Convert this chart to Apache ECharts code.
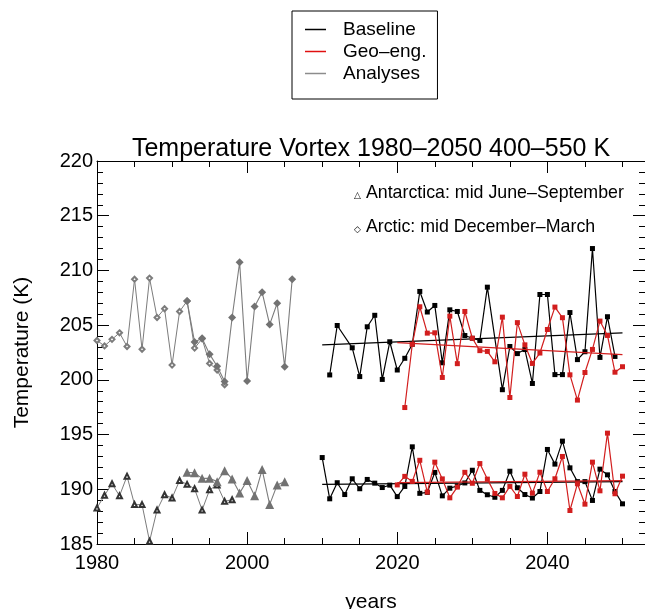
<!DOCTYPE html>
<html><head><meta charset="utf-8">
<script src="https://cdn.jsdelivr.net/npm/echarts@6/dist/echarts.min.js"></script>
<style>html,body{margin:0;padding:0;background:#fff}#c{width:645px;height:609px}</style>
</head><body><div id="c"></div>
<script>
// ---- data ----
const arcticOpenYears = [1980,1981,1982,1983,1984,1985,1986,1987,1988,1989,1990,1991,1992,1993,1994,1995,1996,1997];
const arcticOpenVals  = [203.6,203.1,203.7,204.3,203.05,209.2,202.8,209.3,205.7,206.5,201.35,206.25,207.2,202.9,203.75,201.5,200.9,199.55];
const arcticFillYears = [1992,1993,1994,1995,1996,1997,1998,1999,2000,2001,2002,2003,2004,2005,2006];
const arcticFillVals  = [207.2,203.45,203.8,202.35,201.25,199.85,205.7,210.75,199.9,206.7,208.0,205.05,207.0,201.2,209.2];
const antOpenYears = [1980,1981,1982,1983,1984,1985,1986,1987,1988,1989,1990,1991,1992,1993,1994,1995,1996,1997,1998];
const antOpenVals  = [188.3,189.45,190.5,189.4,191.2,188.6,188.6,185.25,188.1,189.5,189.2,190.8,190.45,190.05,188.1,189.95,190.4,188.9,189.05];
const antFillYears = [1992,1993,1994,1995,1996,1997,1998,1999,2000,2001,2002,2003,2004,2005];
const antFillVals  = [191.55,191.5,191.0,191.0,190.7,191.7,190.95,189.65,190.8,189.4,191.8,188.6,190.4,190.7];

const baseArcticYears = [2011,2012,2014,2015,2016,2017,2018,2019,2020,2021,2022,2023,2024,2025,2026,2027,2028,2029,2030,2031,2032,2034,2035,2036,2037,2038,2039,2040,2041,2042,2043,2044,2045,2046,2047,2048,2049];
const baseArcticVals  = [200.45,204.97,202.93,200.3,204.85,205.9,200.04,203.48,200.9,201.97,203.25,208.08,206.2,206.8,201.56,206.4,206.25,204.05,203.8,203.6,208.47,199.1,203.05,202.4,202.77,199.67,207.8,207.8,200.48,200.48,206.15,201.85,202.57,212.0,202.05,205.77,202.14];
const geoArcticYears = [2021,2022,2023,2024,2025,2026,2027,2028,2029,2030,2031,2032,2033,2034,2035,2036,2037,2038,2039,2040,2041,2042,2043,2044,2045,2046,2047,2048,2049,2050];
const geoArcticVals  = [197.47,203.25,206.68,204.27,204.3,200.22,205.82,201.48,206.25,203.8,202.67,202.6,201.65,205.73,198.39,205.23,203.2,201.5,202.45,204.6,206.65,205.68,200.46,198.15,200.67,202.78,205.37,204.06,200.7,201.2];

const baseAntYears = [2010,2011,2012,2013,2014,2015,2016,2017,2018,2019,2020,2021,2022,2023,2024,2025,2026,2027,2028,2029,2030,2031,2032,2033,2034,2035,2036,2037,2038,2039,2040,2041,2042,2043,2044,2045,2046,2047,2048,2049,2050];
const baseAntVals  = [192.9,189.13,190.6,189.52,190.96,190.05,190.9,190.56,190.16,190.38,189.33,190.26,193.88,189.63,189.72,191.54,189.4,190.1,190.3,190.58,191.74,189.9,189.5,189.27,189.9,191.65,190.14,189.52,189.2,189.8,193.64,192.3,194.4,191.96,190.7,190.7,188.98,191.84,191.32,189.8,188.67];
const geoAntYears = [2020,2021,2022,2023,2024,2025,2026,2027,2028,2029,2030,2031,2032,2033,2034,2035,2036,2037,2038,2039,2040,2041,2042,2043,2044,2045,2046,2047,2048,2049,2050];
const geoAntVals  = [190.4,191.18,190.72,192.65,189.74,192.48,190.95,189.22,190.2,191.55,190.55,192.35,190.93,189.62,189.22,190.26,189.34,191.38,189.65,191.56,189.8,190.96,193.0,188.06,190.5,188.64,192.48,189.86,195.13,189.59,191.2];

// trend line end points
const trendBaseArcticYears = [2010,2050], trendBaseArcticVals = [203.2,204.3];
const trendGeoArcticYears  = [2020,2050], trendGeoArcticVals  = [203.4,202.3];
const trendBaseAntYears    = [2010,2050], trendBaseAntVals    = [190.45,190.7];
const trendGeoAntYears     = [2020,2050], trendGeoAntVals     = [190.6,190.8];

const xLabelTicks = [1980,2000,2020,2040];
const yTicks = [185,190,195,200,205,210,215,220];

// ---- styling ----
const FONT = 'Liberation Sans, Arial, Helvetica, sans-serif';
const BLACK = '#000000', RED = '#d21e1e', GREY = '#7c7c7c', GREYM = '#727272';
const pairs = (xs, ys) => xs.map((x, i) => [x, ys[i]]);

function lineSeries(name, xs, ys, color, symbol, size, lw, extra) {
  return Object.assign({
    name, type: 'line', data: pairs(xs, ys),
    symbol, symbolSize: size, showSymbol: symbol !== 'none',
    lineStyle: { color, width: lw }, itemStyle: { color, borderWidth: 1 },
    color, animation: false, silent: true, z: 3
  }, extra || {});
}

const xMin = 1980, xMax = 2053;
function xAx(pos, interval, len, showLine, showLabel) {
  return {
    type: 'value', position: pos, min: xMin, max: xMax, interval,
    splitLine: { show: false },
    axisLine: { show: showLine, lineStyle: { color: '#000', width: 1 } },
    axisTick: { show: true, inside: true, length: len, lineStyle: { color: '#000', width: 1 } },
    axisLabel: {
      show: showLabel, showMaxLabel: false, margin: 9,
      fontSize: 20, color: '#000', fontFamily: FONT,
      formatter: v => xLabelTicks.includes(v) ? String(v) : ''
    }
  };
}
function yAx(pos, showLabel) {
  return {
    type: 'value', position: pos, min: 185, max: 220, interval: 5,
    splitLine: { show: false },
    axisLine: { show: true, lineStyle: { color: '#000', width: 1 } },
    axisTick: { show: true, inside: true, length: 12, lineStyle: { color: '#000', width: 1 } },
    minorTick: { show: true, splitNumber: 5, length: 6, lineStyle: { color: '#000', width: 1 } },
    axisLabel: {
      show: showLabel, margin: 4, fontSize: 20, color: '#000', fontFamily: FONT,
      formatter: v => yTicks.includes(v) ? String(v) : ''
    },
    name: showLabel ? 'Temperature (K)' : '',
    nameLocation: 'middle', nameGap: 64,
    nameTextStyle: { fontSize: 21, color: '#000', fontFamily: FONT }
  };
}

const xAxes = [
  Object.assign(xAx('bottom', 20, 12, true, true), {
    name: 'years', nameLocation: 'middle', nameGap: 48,
    nameTextStyle: { fontSize: 21, color: '#000', fontFamily: FONT }
  }),
  xAx('bottom', 5, 6, false, false),
  xAx('top', 20, 12, true, false),
  xAx('top', 5, 6, false, false)
];

const option = {
  backgroundColor: '#fff',
  animation: false,
  title: {
    text: 'Temperature Vortex 1980–2050 400–550 K',
    left: 371, top: 137, textAlign: 'center', padding: 0,
    textStyle: { fontSize: 25, fontWeight: 'normal', color: '#000', fontFamily: FONT }
  },
  legend: {
    orient: 'vertical', left: 292, top: 11,
    padding: [8, 11, 15, 13],
    borderColor: '#000', borderWidth: 1, borderRadius: 0,
    itemWidth: 21, itemHeight: 1.5, itemGap: 1,
    selectedMode: false,
    textStyle: { fontSize: 19, color: '#000', fontFamily: FONT, lineHeight: 21, padding: [0, 0, 0, 12] },
    data: [
      { name: 'Baseline', icon: 'rect', itemStyle: { color: BLACK, borderWidth: 0 } },
      { name: 'Geo–eng.', icon: 'rect', itemStyle: { color: '#e01010', borderWidth: 0 } },
      { name: 'Analyses', icon: 'rect', itemStyle: { color: '#8c8c8c', borderWidth: 0 } }
    ]
  },
  grid: { left: 97, right: 0, top: 161, bottom: 65, containLabel: false, outerBoundsMode: 'none' },
  xAxis: xAxes,
  yAxis: [yAx('left', true), yAx('right', false)],
  graphic: [
    {
      type: 'text', left: 354, top: 184,
      style: {
        text: '{s|△}{t|Antarctica: mid June–September}',
        rich: {
          s: { fontSize: 9, fontFamily: 'DejaVu Sans', fill: '#000', verticalAlign: 'bottom', padding: [0, 5, 2, 0] },
          t: { fontSize: 17.8, fontFamily: FONT, fill: '#000' }
        }
      }
    },
    {
      type: 'text', left: 354, top: 218,
      style: {
        text: '{s|◇}{t|Arctic: mid December–March}',
        rich: {
          s: { fontSize: 9, fontFamily: 'DejaVu Sans', fill: '#000', verticalAlign: 'bottom', padding: [0, 5, 2, 0] },
          t: { fontSize: 17.8, fontFamily: FONT, fill: '#000' }
        }
      }
    }
  ],
  series: [
    lineSeries('Analyses', arcticOpenYears, arcticOpenVals, GREY, 'emptyDiamond', 5, 1, { itemStyle: { color: GREY, borderWidth: 0.9 } }),
    lineSeries('Analyses', arcticFillYears, arcticFillVals, GREYM, 'diamond', 8, 1.1, { lineStyle: { color: GREY, width: 1.1 } }),
    lineSeries('Analyses', antOpenYears, antOpenVals, GREY, 'emptyTriangle', 5, 1, { itemStyle: { color: '#333', borderWidth: 0.7 }, lineStyle: { color: GREY, width: 1 } }),
    lineSeries('Analyses', antFillYears, antFillVals, GREYM, 'triangle', 9, 1.1, { lineStyle: { color: GREY, width: 1.1 } }),
    lineSeries('Baseline', baseArcticYears, baseArcticVals, BLACK, 'rect', 5, 1.2),
    lineSeries('Baseline', baseAntYears, baseAntVals, BLACK, 'rect', 5, 1.2),
    lineSeries('Baseline', trendBaseArcticYears, trendBaseArcticVals, BLACK, 'none', 0, 1.2),
    lineSeries('Baseline', trendBaseAntYears, trendBaseAntVals, BLACK, 'none', 0, 1.2),
    lineSeries('Geo–eng.', geoArcticYears, geoArcticVals, RED, 'rect', 5, 1.2, { z: 4 }),
    lineSeries('Geo–eng.', geoAntYears, geoAntVals, RED, 'rect', 5, 1.2, { z: 4 }),
    lineSeries('Geo–eng.', trendGeoArcticYears, trendGeoArcticVals, RED, 'none', 0, 1.2, { z: 4 }),
    lineSeries('Geo–eng.', trendGeoAntYears, trendGeoAntVals, RED, 'none', 0, 1.2, { z: 4 })
  ]
};
const chart = echarts.init(document.getElementById('c'), null, { renderer: 'canvas' });
chart.setOption(option);
</script>
</body></html>
